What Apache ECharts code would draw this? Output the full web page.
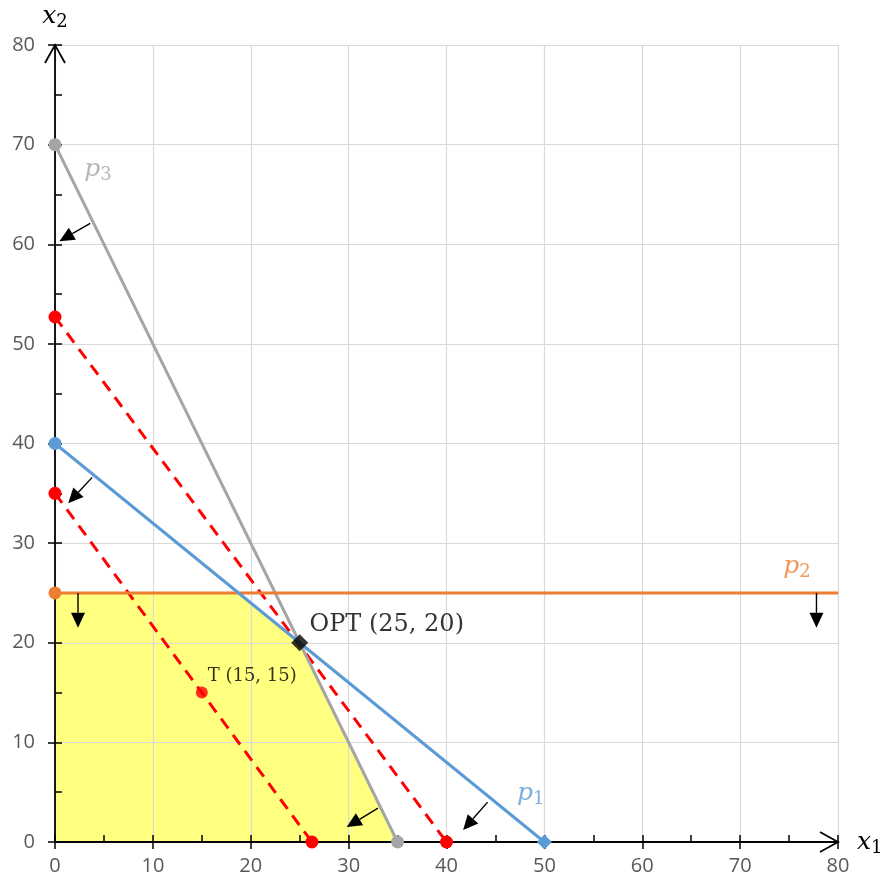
<!DOCTYPE html>
<html>
<head>
<meta charset="utf-8">
<script src="https://cdn.jsdelivr.net/npm/echarts@6/dist/echarts.min.js"></script>
<style>
  html, body { margin: 0; padding: 0; background: #fff; }
  #chart { width: 886px; height: 883px; }
</style>
</head>
<body>
<div id="chart"></div>
<script>
// ---- data ----
const axisMin = 0, axisMax = 80, axisStep = 10;
const p1 = [[0, 40], [50, 0]];
const p2 = [[0, 25], [80, 25]];
const p3 = [[0, 70], [35, 0]];
const objOpt = [[0, 52.7], [40, 0]];
const objT = [[0, 35], [26.25, 0]];
const feasible = [[0, 25], [18.75, 25], [25, 20], [35, 0]];
const optPoint = [[25, 20]];
const tPoint = [[15, 15]];
// arrows: [fromX, fromY, toX, toY]
const arrows = [
  [3.6, 62.1, 0.45, 60.3],
  [3.8, 36.6, 1.35, 34.0],
  [2.35, 25.0, 2.35, 21.5],
  [77.8, 25.0, 77.8, 21.5],
  [33.0, 3.4, 29.8, 1.5],
  [44.2, 4.0, 41.7, 1.2]
];
const labelTexts = {
  p1: ['p', '1'], p2: ['p', '2'], p3: ['p', '3'],
  opt: 'OPT (25, 20)', t: 'T (15, 15)'
};
const labelAnchors = {
  p1: [48.6, 4.9], p2: [75.8, 27.7], p3: [4.4, 67.5],
  opt: [26.0, 21.8], t: [15.6, 16.6]
};

// ---- styles ----
const BLUE = '#5B9BD5', ORANGE = '#ED7D31', GRAY = '#A5A5A5', RED = '#FF0000';
const LABEL_GRAY = '#595959';
const tickFont = { fontFamily: 'Open Sans', fontSize: 20, color: LABEL_GRAY };

function subRich(color) {
  return {
    p: { fontFamily: 'DejaVu Serif', fontStyle: 'italic', fontSize: 25, color: color },
    s: { fontFamily: 'DejaVu Serif', fontSize: 18, color: color, verticalAlign: 'bottom', padding: [12, 0, 0, 0] }
  };
}

const chart = echarts.init(document.getElementById('chart'));

function primaryAxis(extra) {
  return Object.assign({
    type: 'value', min: axisMin, max: axisMax, interval: axisStep,
    axisLine: { show: true, onZero: false, lineStyle: { color: '#000', width: 1.8 } },
    axisTick: { show: true, inside: false, length: 7, lineStyle: { color: '#000', width: 1.5 } },
    splitLine: { show: true, lineStyle: { color: '#D9D9D9', width: 1.2 } }
  }, extra);
}
function secondaryAxis(extra) {
  return Object.assign({
    type: 'value', min: axisMin, max: axisMax, interval: axisStep,
    axisLine: { show: false, onZero: false },
    axisTick: { show: true, inside: true, length: 7, lineStyle: { color: '#000', width: 1.5 } },
    minorTick: { show: true, splitNumber: 2, length: 7, lineStyle: { color: '#000', width: 1.5 } },
    splitLine: { show: false },
    axisLabel: { show: false }
  }, extra);
}

function labelItem(key, color) {
  const t = labelTexts[key];
  return {
    value: labelAnchors[key],
    label: {
      show: true, position: 'inside',
      formatter: '{p|' + t[0] + '}{s|' + t[1] + '}',
      rich: subRich(color)
    }
  };
}

const option = {
  animation: false,
  grid: { left: 55, right: 48, top: 45, bottom: 41, containLabel: false },
  xAxis: [
    primaryAxis({
      position: 'bottom',
      axisLabel: Object.assign({ margin: 14 }, tickFont),
      name: '{p|x}{s|1}', nameLocation: 'end', nameGap: 19,
      nameTextStyle: { rich: subRich('#000'), align: 'left', verticalAlign: 'middle' }
    }),
    secondaryAxis({ position: 'bottom' })
  ],
  yAxis: [
    primaryAxis({
      position: 'left',
      axisLabel: Object.assign({ margin: 20 }, tickFont),
      name: '{p|x}{s|2}', nameLocation: 'end', nameGap: 14,
      nameTextStyle: { rich: subRich('#000'), align: 'center', verticalAlign: 'bottom' }
    }),
    secondaryAxis({ position: 'left' })
  ],
  series: [
    {
      type: 'line', z: -1, data: feasible, symbol: 'none',
      lineStyle: { width: 0, opacity: 0 },
      areaStyle: { color: '#FFFF80', opacity: 1 }
    },
    {
      type: 'line', data: objT, symbol: 'circle', symbolSize: 13,
      itemStyle: { color: RED }, lineStyle: { color: RED, width: 3, type: [12, 8] }
    },
    {
      type: 'line', data: objOpt, symbol: 'circle', symbolSize: 13,
      itemStyle: { color: RED }, lineStyle: { color: RED, width: 3, type: [12, 8] }
    },
    {
      type: 'line', data: p3, symbol: 'circle', symbolSize: 13,
      itemStyle: { color: GRAY }, lineStyle: { color: GRAY, width: 3 }
    },
    {
      type: 'line',
      data: p2.map((v, i) => i === 1 ? { value: v, symbol: 'none' } : v),
      symbol: 'circle', symbolSize: 13,
      itemStyle: { color: ORANGE }, lineStyle: { color: ORANGE, width: 3 }
    },
    {
      type: 'line',
      data: p1.map((v, i) => i === 1 ? { value: v, symbol: 'diamond', symbolSize: 15 } : v),
      symbol: 'circle', symbolSize: 13,
      itemStyle: { color: BLUE }, lineStyle: { color: BLUE, width: 3 }
    },
    {
      type: 'scatter', data: tPoint, symbol: 'circle', symbolSize: 12,
      itemStyle: { color: RED }, z: 5
    },
    {
      type: 'scatter', data: optPoint, symbol: 'diamond', symbolSize: 17,
      itemStyle: { color: '#000' }, z: 6
    },
    {
      type: 'custom', z: 7,
      data: arrows,
      renderItem: function (params, api) {
        const s = api.coord([api.value(0), api.value(1)]);
        const e = api.coord([api.value(2), api.value(3)]);
        const ang = Math.atan2(e[1] - s[1], e[0] - s[0]);
        const L = 15, W = 7;
        const c = Math.cos(ang), sn = Math.sin(ang);
        const bx = e[0] - L * c, by = e[1] - L * sn;
        return {
          type: 'group',
          children: [
            { type: 'line', shape: { x1: s[0], y1: s[1], x2: bx, y2: by },
              style: { stroke: '#000', lineWidth: 1.4 } },
            { type: 'polygon',
              shape: { points: [[e[0], e[1]], [bx - W * sn, by + W * c], [bx + W * sn, by - W * c]] },
              style: { fill: '#000' } }
          ]
        };
      }
    },
    {
      type: 'custom', z: 7,
      data: [[axisMax, axisMin, 0], [axisMin, axisMax, 1]],
      renderItem: function (params, api) {
        const p = api.coord([api.value(0), api.value(1)]);
        const pts = api.value(2) === 0
          ? [[p[0] - 18, p[1] - 10], [p[0], p[1]], [p[0] - 18, p[1] + 10]]
          : [[p[0] - 10, p[1] + 18], [p[0], p[1]], [p[0] + 10, p[1] + 18]];
        return { type: 'polyline', shape: { points: pts },
          style: { stroke: '#000', lineWidth: 1.8, fill: null } };
      }
    },
    {
      type: 'scatter', symbolSize: 0, z: 8,
      data: [labelItem('p1', BLUE), labelItem('p2', ORANGE), labelItem('p3', GRAY)]
    },
    {
      type: 'scatter', symbolSize: 0, z: 8,
      data: [
        { value: labelAnchors.opt, label: { show: true, position: 'inside', align: 'left',
          formatter: labelTexts.opt, fontFamily: 'DejaVu Serif', fontSize: 24, color: '#000' } },
        { value: labelAnchors.t, label: { show: true, position: 'inside', align: 'left',
          formatter: labelTexts.t, fontFamily: 'DejaVu Serif', fontSize: 18, color: '#000' } }
      ]
    }
  ]
};
chart.setOption(option);
</script>
</body>
</html>
